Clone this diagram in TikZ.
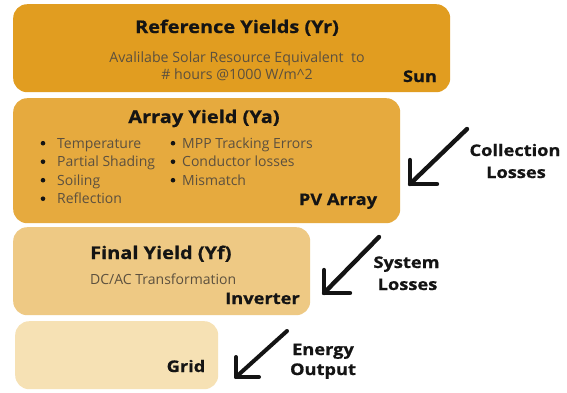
\documentclass[tikz,border=0pt]{standalone}
\usepackage{fontspec}
\setmainfont{Open Sans}
\newfontfamily\boldf[FakeStretch=1.14,FakeBold=0.8]{Open Sans Bold}
\usetikzlibrary{calc}
\definecolor{cA}{RGB}{225,157,32}
\definecolor{cB}{RGB}{230,170,62}
\definecolor{cC}{RGB}{238,201,132}
\definecolor{cD}{RGB}{246,225,180}
\definecolor{subc}{RGB}{92,80,62}
\definecolor{inkc}{RGB}{20,20,20}
\begin{document}
\begin{tikzpicture}[x=1pt,y=-1pt,
  box/.style={rounded corners=14pt, inner sep=0pt, anchor=north west, draw=none},
  ttl/.style={font=\boldf\fontsize{17.5}{20}\selectfont, text=inkc, anchor=base, inner sep=0pt},
  sub/.style={font=\fontsize{14.2}{16}\selectfont, text=subc, anchor=base, inner sep=0pt},
  itm/.style={font=\fontsize{14}{16}\selectfont, text=subc, anchor=base west, inner sep=0pt},
  lbl/.style={font=\boldf\fontsize{16}{19}\selectfont, text=inkc, anchor=base, inner sep=0pt},
  dot/.style={circle, fill=inkc, inner sep=0pt, minimum size=4.6pt},
  arr/.style={line width=4.4pt, line cap=round, line join=round, draw=inkc}]
\useasboundingbox (0,0) rectangle (567,392);
\fill[white] (0,0) rectangle (567,392);
% boxes
\node[box, fill=cA, minimum width=437pt, minimum height=88pt] (bA) at (13,4) {};
\node[box, fill=cB, minimum width=387pt, minimum height=125pt] (bB) at (13,98) {};
\node[box, fill=cC, minimum width=297pt, minimum height=88pt] (bC) at (13,227) {};
\node[box, fill=cD, minimum width=203pt, minimum height=68pt] (bD) at (15,321) {};
% box A text
\node[ttl] (tA) at (237,33) {Reference Yields (Yr)};
\node[sub] (sA1) at (237,62) {Avalilabe Solar Resource Equivalent\ \ to};
\node[sub] (sA2) at (237,79) {\# hours @1000 W/m\^{}2};
\node[lbl] (sun) at (420,82) {Sun};
% box B text
\node[ttl] (tB) at (204,123) {Array Yield (Ya)};
\foreach \n/\y/\t in {1/148/Temperature,2/166.5/Partial Shading,3/185/Soiling,4/203.5/Reflection}{
  \node[dot] (dl\n) at (43,\y-4.8) {};
  \node[itm] (il\n) at (57,\y) {\t};
}
\foreach \n/\y/\t in {1/148/MPP Tracking Errors,2/166.5/Conductor losses,3/185/Mismatch}{
  \node[dot] (dr\n) at (173,\y-4.8) {};
  \node[itm] (ir\n) at (182,\y) {\t};
}
\node[lbl] (pv) at (338,205) {PV Array};
% box C text
\node[ttl, anchor=base west] (tC) at (90,259) {Final Yield (Yf)};
\node[itm] (sC) at (90,284) {DC/AC Transformation};
\node[lbl] (inv) at (262.5,304) {Inverter};
% box D text
\node[lbl] (grid) at (186,372) {Grid};
% loss labels
\node[lbl] (col1) at (515,156) {Collection};
\node[lbl] (col2) at (516,178) {Losses};
\node[lbl] (sys1) at (406.5,268) {System};
\node[lbl] (sys2) at (407.5,290) {Losses};
\node[lbl] (en1) at (323,355) {Energy};
\node[lbl] (en2) at (323,375) {Output};
% arrows
\coordinate (a1s) at (467,129); \coordinate (a1t) at (410,184);
\coordinate (a1u) at (410,160); \coordinate (a1r) at (437,184);
\coordinate (a2s) at (379,237); \coordinate (a2t) at (324,293);
\coordinate (a2u) at (324,270); \coordinate (a2r) at (350,293);
\coordinate (a3s) at (287,331); \coordinate (a3t) at (236,377);
\coordinate (a3u) at (236,357); \coordinate (a3r) at (259,377);
\draw[arr] (a1s) -- (a1t);
\draw[arr] (a1u) -- (a1t) -- (a1r);
\draw[arr] (a2s) -- (a2t);
\draw[arr] (a2u) -- (a2t) -- (a2r);
\draw[arr, line width=4pt] (a3s) -- (a3t);
\draw[arr, line width=4pt] (a3u) -- (a3t) -- (a3r);
\end{tikzpicture}
\end{document}
